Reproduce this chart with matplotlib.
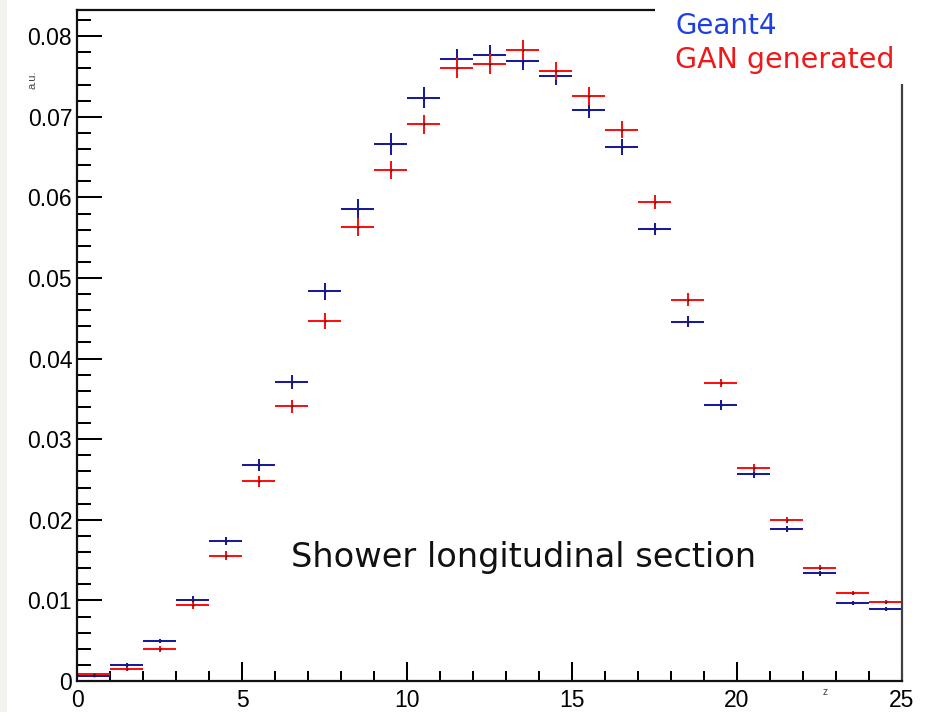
import numpy as np
import matplotlib
matplotlib.use("Agg")
import matplotlib.pyplot as plt
from matplotlib.patches import Rectangle
from matplotlib.ticker import MultipleLocator, FixedLocator, FixedFormatter

# Longitudinal shower profile, 25 layers along z
z_edges = np.arange(0, 26)
z_centers = z_edges[:-1] + 0.5

geant4 = [0.00066, 0.00195, 0.00497, 0.0101, 0.01735, 0.0268, 0.03714, 0.04836,
          0.05851, 0.06666, 0.07238, 0.07722, 0.07764, 0.07698, 0.07503, 0.07085,
          0.06625, 0.05606, 0.0446, 0.03429, 0.02571, 0.01888, 0.01338, 0.00965,
          0.00898]
geant4_err = [0.0001, 0.00025, 0.0003, 0.00045, 0.0005, 0.00075, 0.00087, 0.00103,
              0.00124, 0.00137, 0.0013, 0.00124, 0.00124, 0.00118, 0.00112, 0.001,
              0.001, 0.00078, 0.00071, 0.00062, 0.0005, 0.00037, 0.00031, 0.00025,
              0.00025]

gan = [0.00083, 0.00149, 0.00394, 0.0094, 0.01557, 0.0248, 0.03408, 0.04463,
       0.05631, 0.06335, 0.06907, 0.07611, 0.07656, 0.0783, 0.07569, 0.07259,
       0.0684, 0.05942, 0.04733, 0.03698, 0.02637, 0.0200, 0.01404, 0.01093,
       0.00985]
gan_err = [0.0001, 0.00025, 0.00037, 0.00043, 0.0005, 0.00068, 0.00083, 0.001,
           0.00112, 0.00112, 0.00118, 0.00124, 0.00124, 0.00124, 0.00112, 0.00112,
           0.00105, 0.00087, 0.00078, 0.00053, 0.0005, 0.00037, 0.00031, 0.00025,
           0.00025]

y_ticks = [0, 0.01, 0.02, 0.03, 0.04, 0.05, 0.06, 0.07, 0.08]
y_tick_labels = ["0", "0.01", "0.02", "0.03", "0.04", "0.05", "0.06", "0.07", "0.08"]
x_ticks = [0, 5, 10, 15, 20, 25]
x_tick_labels = ["0", "5", "10", "15", "20", "25"]

BLUE = "#1a1a9c"
RED = "#ff1010"
tick_font = ["Liberation Sans", "DejaVu Sans"]
text_font = ["DejaVu Sans"]

W, H = 938, 712
fig = plt.figure(figsize=(W / 100, H / 100), dpi=100)
fig.patch.set_facecolor("white")
ax = fig.add_axes([77 / W, 1 - 681 / H, 825 / W, 671 / H])

lw = 1.45
for vals, errs, col in ((geant4, geant4_err, BLUE), (gan, gan_err, RED)):
    ax.errorbar(z_centers, vals, xerr=0.5, yerr=errs, fmt="none",
                ecolor=col, elinewidth=lw, capsize=0)
    ax.plot(z_centers, vals, ls="none", marker="s", ms=1.3, color="#202020",
            mec="none")

ax.set_xlim(0, 25)
ax.set_ylim(0, 0.08325)

ax.yaxis.set_major_locator(FixedLocator(y_ticks))
ax.yaxis.set_major_formatter(FixedFormatter(y_tick_labels))
ax.yaxis.set_minor_locator(MultipleLocator(0.002))
ax.xaxis.set_major_locator(FixedLocator(x_ticks))
ax.xaxis.set_major_formatter(FixedFormatter(x_tick_labels))
ax.xaxis.set_minor_locator(MultipleLocator(1))

ax.tick_params(axis="y", which="major", direction="in", length=18, width=1.45,
               pad=3.5, labelsize=16.5)
ax.tick_params(axis="y", which="minor", direction="in", length=10, width=1.45)
ax.tick_params(axis="x", which="major", direction="in", length=13.5, width=1.45,
               pad=6, labelsize=16.5)
ax.tick_params(axis="x", which="minor", direction="in", length=7.2, width=1.45)
ax.tick_params(top=False, right=False, which="both")
for lab in ax.get_xticklabels() + ax.get_yticklabels():
    lab.set_family(tick_font)

for side in ("left", "bottom", "top"):
    ax.spines[side].set_linewidth(1.6)
    ax.spines[side].set_color("#111111")
ax.spines["right"].set_linewidth(1.6)
ax.spines["right"].set_color("#404040")

# small axis titles
fig.text(32 / W, 1 - 80 / H, "a.u.", rotation=90, ha="center", va="center",
         fontsize=8, family=["Liberation Sans", "DejaVu Sans"], color="#444444")
fig.text(825 / W, 1 - 692 / H, "z", ha="center", va="center",
         fontsize=7.5, family=["Liberation Sans", "DejaVu Sans"], color="#444444")

fig.text(291 / W, 1 - 566.7 / H, "Shower longitudinal section", ha="left",
         va="baseline", fontsize=24.2, family=text_font, color="#111111")

# legend block sits over the upper-right corner of the frame
fig.patches.append(Rectangle((655 / W, 1 - 84 / H), 1 - 655 / W, 84 / H,
                             transform=fig.transFigure, facecolor="white",
                             edgecolor="none", zorder=10))
fig.patches.append(Rectangle((0, 0), 7 / W, 1, transform=fig.transFigure,
                             facecolor="#f3f3ed", edgecolor="none", zorder=10))
fig.text(675 / W, 1 - 34 / H, "Geant4", ha="left", va="baseline", fontsize=20,
         family=text_font, color="#1f3fe0", zorder=11)
fig.text(675 / W, 1 - 67.7 / H, "GAN generated", ha="left", va="baseline",
         fontsize=20.5, family=text_font, color="#f01818", zorder=11)

fig.savefig("out.png", dpi=100)
